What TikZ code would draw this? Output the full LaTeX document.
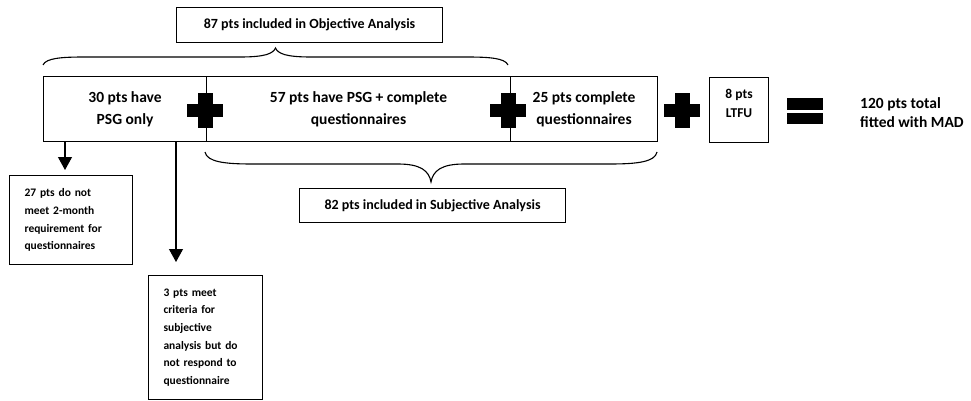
\documentclass[tikz,border=0pt]{standalone}
\usepackage{fontspec}
\setmainfont{Carlito}
\usetikzlibrary{arrows.meta}

\begin{document}
\begin{tikzpicture}[x=1pt,y=-1pt,
  caixa/.style={draw,line width=1.1pt,inner sep=0pt,anchor=north west,align=center,
    font=\bfseries\fontsize{15.5}{22}\selectfont},
  nota/.style={draw,line width=1.1pt,anchor=north west,align=left,inner xsep=15pt,
    font=\bfseries\fontsize{11.5}{17.7}\selectfont},
  seta/.style={line width=1.1pt,-{Triangle[width=14pt,length=13pt]}},
  chave/.style={line width=1.1pt},
  maisinho/.pic={\fill (-18,-6.5) rectangle (18,6.5); \fill (-7.5,-17.5) rectangle (7.5,17.5);}]

\useasboundingbox (0,0) rectangle (971,401);

% Analise objetiva
\node[caixa,minimum width=266pt,minimum height=35pt,font=\bfseries\fontsize{14}{18}\selectfont] (obj) at (176,7) {87 pts included in Objective Analysis};
\draw[chave] (43,65) .. controls (46,58) and (62,57) .. (85,57) -- (240,57)
  .. controls (264,57) and (273,54) .. (275.5,48) .. controls (278,54) and (287,57) .. (311,57)
  -- (466,57) .. controls (489,57) and (505,58) .. (508,65);

% Caixas principais
\node[caixa,minimum width=163pt,minimum height=65pt] (psg) at (43,76) {30 pts have\\PSG only};
\node[caixa,minimum width=304pt,minimum height=65pt] (ambos) at (206,76) {57 pts have PSG + complete\\questionnaires};
\node[caixa,minimum width=147pt,minimum height=65pt] (quest) at (510,76) {25 pts complete\\questionnaires};
\node[caixa,minimum width=59pt,minimum height=65pt,text depth=14pt,
  font=\bfseries\fontsize{13.5}{19}\selectfont] (ltfu) at (709,77) {8 pts\\LTFU};

% Sinais
\pic at (205,111) {maisinho};
\pic at (508,111) {maisinho};
\pic at (682,111) {maisinho};
\fill (787,98) rectangle (823,110);
\fill (787,113) rectangle (823,124);
\node[anchor=west,align=left,inner sep=0pt,font=\bfseries\fontsize{15.5}{19}\selectfont] (total) at (860,113) {120 pts total\\fitted with MAD};

% Analise subjetiva
\draw[chave] (205,152) .. controls (207,162) and (225,164) .. (252,164) -- (398,164)
  .. controls (421,164) and (429,171) .. (431,182) .. controls (433,171) and (441,164) .. (464,164)
  -- (610,164) .. controls (637,164) and (655,162) .. (657,152);
\node[caixa,minimum width=266pt,minimum height=34pt,font=\bfseries\fontsize{14}{18}\selectfont] (subj) at (299,188) {82 pts included in Subjective Analysis};

% Exclusoes
\node[nota,text width=93pt,minimum height=89pt] (exc1) at (9,175) {27 pts do not\\meet 2-month\\requirement for\\questionnaires};
\node[nota,text width=84pt,minimum height=124pt] (exc2) at (148,275) {3 pts meet\\criteria for\\subjective\\analysis but do\\not respond to\\questionnaire};
\coordinate (s1) at (65,141);
\coordinate (s2) at (176,141);
\draw[seta,shorten >=5pt] (s1) -- (s1 |- exc1.north);
\draw[seta,shorten >=13pt] (s2) -- (s2 |- exc2.north);

\end{tikzpicture}
\end{document}
